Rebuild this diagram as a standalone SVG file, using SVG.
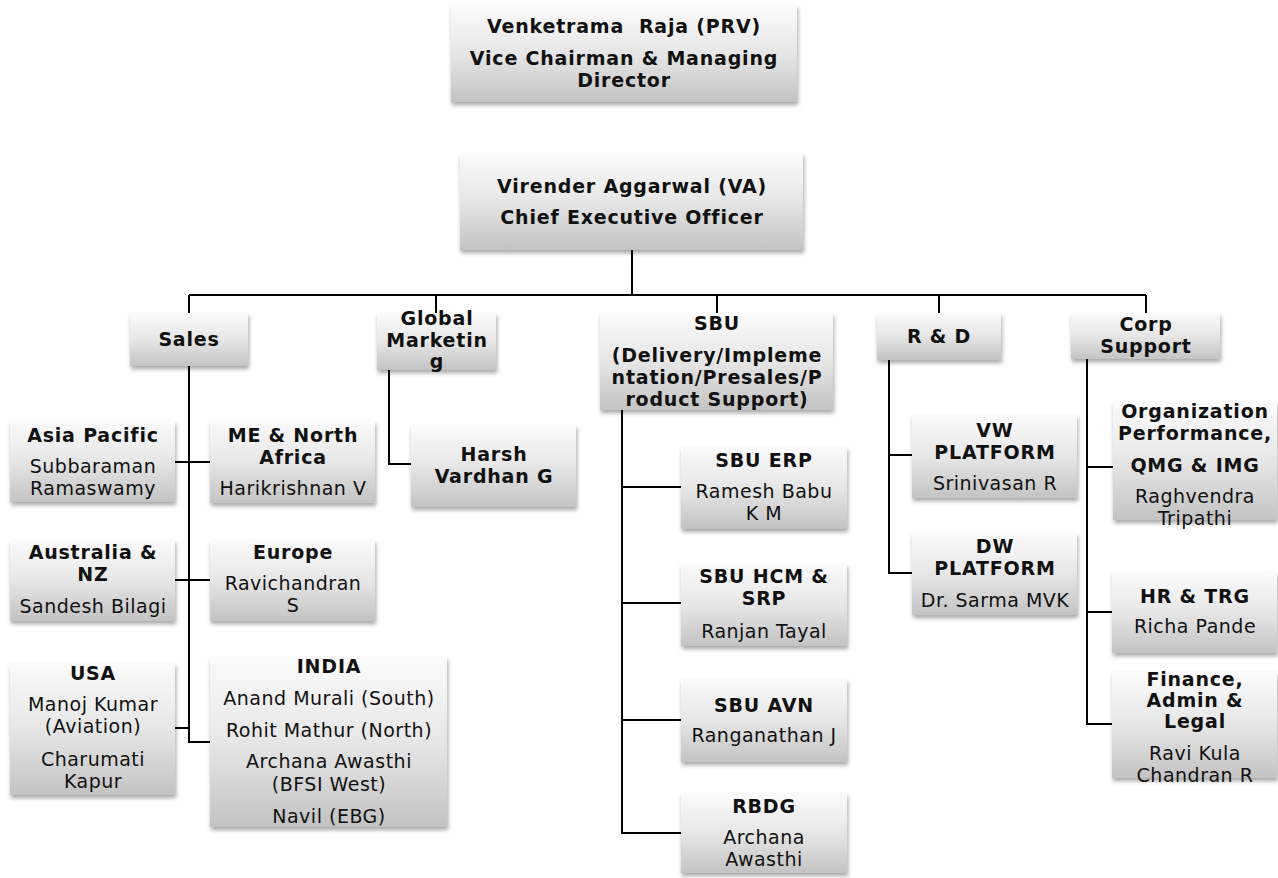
<svg xmlns="http://www.w3.org/2000/svg" width="1278" height="878" viewBox="0 0 1278 878">
<defs>
<linearGradient id="g" x1="0" y1="0" x2="0" y2="1">
<stop offset="0" stop-color="#fbfbfb"/>
<stop offset="0.5" stop-color="#e6e6e6"/>
<stop offset="1" stop-color="#c3c3c3"/>
</linearGradient>
<filter id="sh" x="-10%" y="-10%" width="125%" height="135%">
<feDropShadow dx="1" dy="3" stdDeviation="2" flood-color="#000" flood-opacity="0.35"/>
</filter>
</defs>
<style>
rect{fill:url(#g);filter:url(#sh)}
text{font-family:"DejaVu Sans",Verdana,sans-serif;font-size:19px;fill:#111;text-anchor:middle}
.b{font-weight:bold;letter-spacing:0.8px}
.r{letter-spacing:0.5px}
.c path{fill:none;stroke:#000;stroke-width:2}
</style>
<rect x="0" y="0" width="1278" height="878" style="fill:#fff;filter:none"/>
<g class="c" id="connectors">
<path d="M632,250 V295"/>
<path d="M189,295 H1146"/>
<path d="M189,295 V313 M436,295 V313 M717,295 V313 M939,295 V313 M1146,295 V313"/>
<path d="M189,366 V742 H210 M175,462 H210 M175,580 H210 M175,728 H189"/>
<path d="M389,370 V464 H411"/>
<path d="M622,410 V833 H681 M622,487 H681 M622,603 H681 M622,720 H681"/>
<path d="M889,360 V573 H912 M889,455 H912"/>
<path d="M1087,359 V724 H1112 M1087,467 H1113 M1087,612 H1112"/>
</g>
<g id="prv"><rect x="451" y="5" width="346" height="97"/>
<text class="b" x="624" y="33" xml:space="preserve">Venketrama  Raja (PRV)</text>
<text class="b" x="624" y="65">Vice Chairman &amp; Managing</text>
<text class="b" x="624" y="87">Director</text></g>
<g id="va"><rect x="460" y="153" width="343" height="97"/>
<text class="b" x="632" y="193">Virender Aggarwal (VA)</text>
<text class="b" x="632" y="224">Chief Executive Officer</text></g>
<g id="sales"><rect x="130" y="313" width="118" height="53"/>
<text class="b" x="189" y="346">Sales</text></g>
<g id="gm"><rect x="377" y="313" width="119" height="57"/>
<text class="b" x="437" y="325">Global</text>
<text class="b" x="437" y="347">Marketin</text>
<text class="b" x="437" y="368">g</text></g>
<g id="sbu"><rect x="600" y="313" width="233" height="97"/>
<text class="b" x="717" y="330">SBU</text>
<text class="b" x="717" y="362">(Delivery/Impleme</text>
<text class="b" x="717" y="384">ntation/Presales/P</text>
<text class="b" x="717" y="406">roduct Support)</text></g>
<g id="rd"><rect x="877" y="313" width="124" height="47"/>
<text class="b" x="939" y="343">R &amp; D</text></g>
<g id="corp"><rect x="1071" y="313" width="149" height="46"/>
<text class="b" x="1146" y="331">Corp</text>
<text class="b" x="1146" y="353">Support</text></g>
<g id="asia"><rect x="10" y="421" width="165" height="81"/>
<text class="b" x="93" y="442">Asia Pacific</text>
<text class="r" x="93" y="473">Subbaraman</text>
<text class="r" x="93" y="495">Ramaswamy</text></g>
<g id="me"><rect x="210" y="421" width="165" height="82"/>
<text class="b" x="293" y="442">ME &amp; North</text>
<text class="b" x="293" y="464">Africa</text>
<text class="r" x="293" y="495">Harikrishnan V</text></g>
<g id="aus"><rect x="10" y="540" width="165" height="81"/>
<text class="b" x="93" y="559">Australia &amp;</text>
<text class="b" x="93" y="581">NZ</text>
<text class="r" x="93" y="613">Sandesh Bilagi</text></g>
<g id="europe"><rect x="210" y="540" width="165" height="81"/>
<text class="b" x="293" y="559">Europe</text>
<text class="r" x="293" y="590">Ravichandran</text>
<text class="r" x="293" y="612">S</text></g>
<g id="usa"><rect x="10" y="663" width="165" height="132"/>
<text class="b" x="93" y="680">USA</text>
<text class="r" x="93" y="711">Manoj Kumar</text>
<text class="r" x="93" y="733">(Aviation)</text>
<text class="r" x="93" y="766">Charumati</text>
<text class="r" x="93" y="788">Kapur</text></g>
<g id="india"><rect x="210" y="657" width="237" height="170"/>
<text class="b" x="329" y="673">INDIA</text>
<text class="r" x="329" y="705">Anand Murali (South)</text>
<text class="r" x="329" y="737">Rohit Mathur (North)</text>
<text class="r" x="329" y="768">Archana Awasthi</text>
<text class="r" x="329" y="791">(BFSI West)</text>
<text class="r" x="329" y="823">Navil (EBG)</text></g>
<g id="harsh"><rect x="411" y="425" width="165" height="82"/>
<text class="b" x="494" y="461">Harsh</text>
<text class="b" x="494" y="483">Vardhan G</text></g>
<g id="sbuerp"><rect x="681" y="447" width="166" height="82"/>
<text class="b" x="764" y="467">SBU ERP</text>
<text class="r" x="764" y="498">Ramesh Babu</text>
<text class="r" x="764" y="520">K M</text></g>
<g id="sbuhcm"><rect x="681" y="564" width="166" height="82"/>
<text class="b" x="764" y="583">SBU HCM &amp;</text>
<text class="b" x="764" y="605">SRP</text>
<text class="r" x="764" y="638">Ranjan Tayal</text></g>
<g id="sbuavn"><rect x="681" y="679" width="166" height="83"/>
<text class="b" x="764" y="712">SBU AVN</text>
<text class="r" x="764" y="742">Ranganathan J</text></g>
<g id="rbdg"><rect x="681" y="793" width="166" height="80"/>
<text class="b" x="764" y="813">RBDG</text>
<text class="r" x="764" y="844">Archana</text>
<text class="r" x="764" y="866">Awasthi</text></g>
<g id="vw"><rect x="912" y="415" width="165" height="83"/>
<text class="b" x="995" y="437">VW</text>
<text class="b" x="995" y="459">PLATFORM</text>
<text class="r" x="995" y="490">Srinivasan R</text></g>
<g id="dw"><rect x="912" y="533" width="165" height="82"/>
<text class="b" x="995" y="553">DW</text>
<text class="b" x="995" y="575">PLATFORM</text>
<text class="r" x="995" y="607">Dr. Sarma MVK</text></g>
<g id="org"><rect x="1113" y="402" width="164" height="118"/>
<text class="b" x="1195" y="418">Organization</text>
<text class="b" x="1195" y="440">Performance,</text>
<text class="b" x="1195" y="472">QMG &amp; IMG</text>
<text class="r" x="1195" y="503">Raghvendra</text>
<text class="r" x="1195" y="525">Tripathi</text></g>
<g id="hr"><rect x="1112" y="572" width="165" height="81"/>
<text class="b" x="1195" y="603">HR &amp; TRG</text>
<text class="r" x="1195" y="633">Richa Pande</text></g>
<g id="fin"><rect x="1112" y="672" width="165" height="106"/>
<text class="b" x="1195" y="686">Finance,</text>
<text class="b" x="1195" y="707">Admin &amp;</text>
<text class="b" x="1195" y="728">Legal</text>
<text class="r" x="1195" y="760">Ravi Kula</text>
<text class="r" x="1195" y="782">Chandran R</text></g>
</svg>
